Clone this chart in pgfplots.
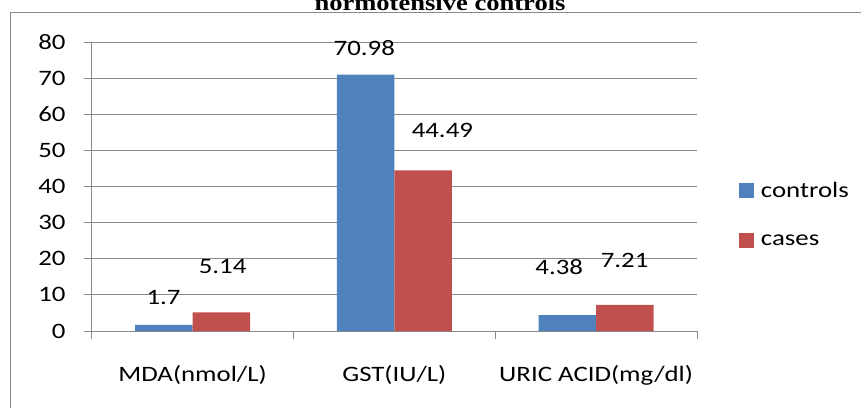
\documentclass[border=0pt]{standalone}
\usepackage{pgfplots}
\pgfplotsset{compat=1.18}
\usepackage{fontspec}
\setmainfont{Carlito}[FakeStretch=1.22]
\newfontfamily\titlefont{Liberation Serif}[FakeStretch=1.18]
\definecolor{ctrl}{HTML}{4F81BD}
\definecolor{cases}{HTML}{C0504D}
\definecolor{gridgray}{HTML}{898989}
\begin{document}
\fontsize{22}{26}\selectfont
\begin{tikzpicture}
\useasboundingbox (0,0) rectangle (861pt,407pt);
\clip (0,0) rectangle (861pt,407pt);
\draw[gridgray, line width=1pt] (10pt,-2pt) -- (10pt,394pt) -- (870pt,394pt);
\node[anchor=base] at (440pt,396.5pt) {\fontsize{22.5}{26}\selectfont\titlefont\bfseries normotensive controls};
\begin{axis}[
  at={(91.7pt,76pt)}, anchor=south west,
  scale only axis, width=605.3pt, height=289pt,
  xmin=-0.5, xmax=2.5, ymin=0, ymax=80,
  ybar=0pt, bar width=57.5pt,
  axis x line*=bottom, axis y line*=left,
  axis line style={gridgray, line width=1pt},
  xtick={0,1,2},
  xticklabels={MDA(nmol/L), GST(IU/L), URIC ACID(mg/dl)},
  major x tick style={draw=none},
  minor xtick={-0.5,0.5,1.5,2.5},
  minor tick length=8pt,
  minor x tick style={gridgray, line width=1pt},
  ytick={0,10,...,80},
  major tick length=8pt,
  tick align=outside,
  y tick style={gridgray, line width=1pt},
  ymajorgrids,
  major grid style={gridgray, line width=1pt},
  /pgf/number format/assume math mode=true,
  yticklabel style={anchor=east, inner sep=0pt, xshift=-18pt},
  xticklabel style={anchor=center, inner sep=0pt, yshift=-36pt},
  legend style={at={(1.064,0.525)}, anchor=north west, draw=none, fill=none,
    row sep=31pt, nodes={inner sep=1pt}},
  legend cell align=left,
  legend image code/.code={\fill[#1] (0pt,-6.5pt) rectangle (15pt,8.5pt); \path (21pt,0pt);},
  clip=false,
]
\addplot[fill=ctrl, draw=none] coordinates {(0,1.7) (1,70.98) (2,4.38)};
\addplot[fill=cases, draw=none] coordinates {(0,5.14) (1,44.49) (2,7.21)};
\legend{controls, cases}
\node at (axis cs:-0.144,9.4) {1.7};
\node at (axis cs:0.149,17.9) {5.14};
\node at (axis cs:0.851,78.2) {70.98};
\node at (axis cs:1.238,55.5) {44.49};
\node at (axis cs:1.817,17.6) {4.38};
\node at (axis cs:2.141,19.5) {7.21};
\end{axis}
\end{tikzpicture}
\end{document}
